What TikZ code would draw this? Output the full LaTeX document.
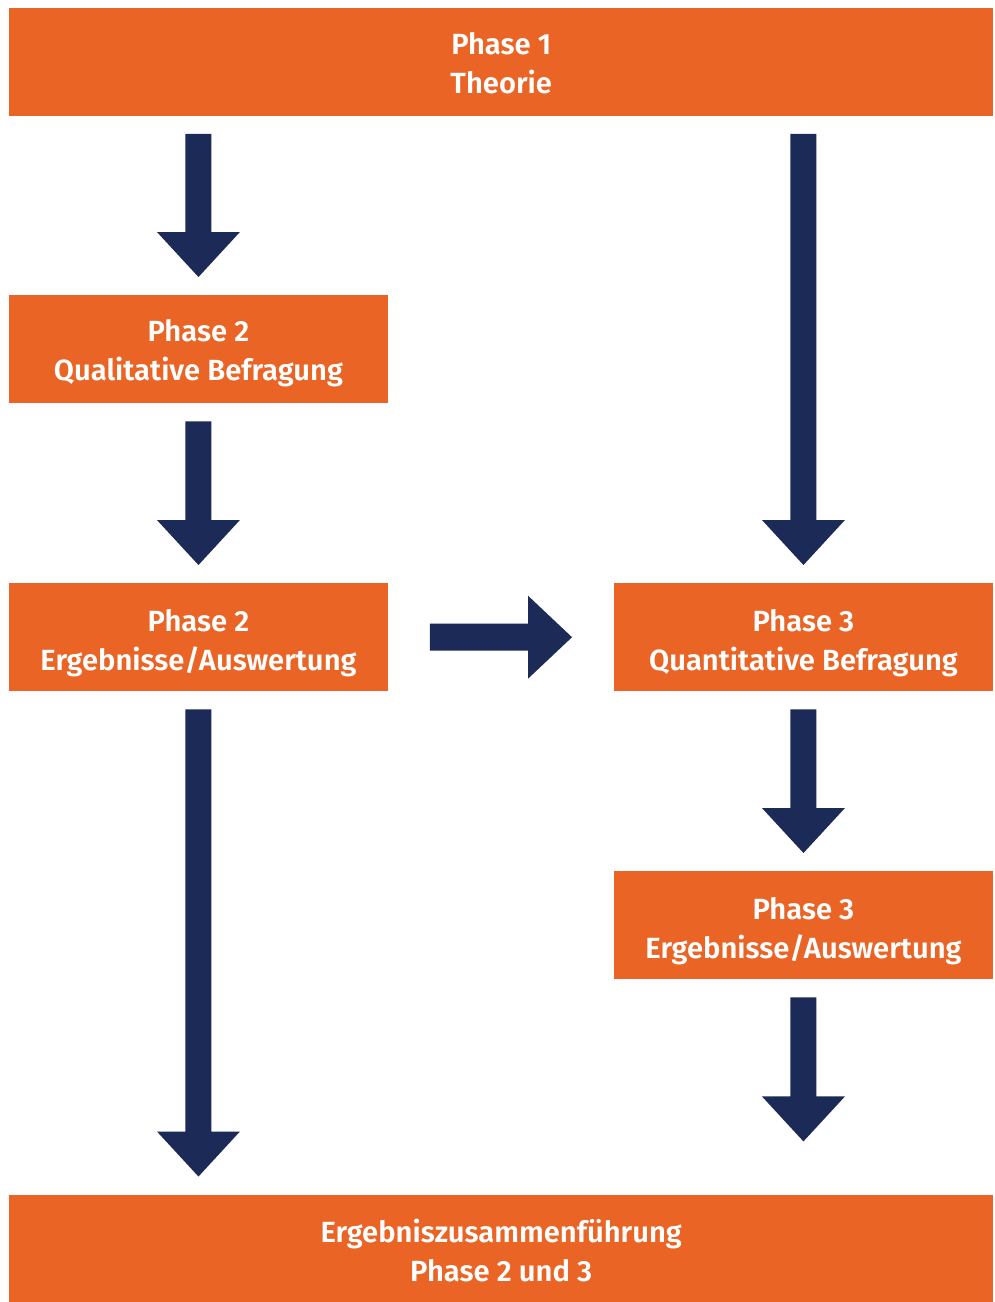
\documentclass[tikz,border=0pt]{standalone}
\usepackage{fontspec}
\setmainfont{Fira Sans}[BoldFont={Fira Sans SemiBold}]
\usetikzlibrary{calc}
\definecolor{orng}{HTML}{E96425}
\definecolor{navy}{HTML}{1C2A57}
\newcommand\arrowdown[2]{%
  \fill[navy] let \p1=(#1), \p2=(#2) in
    (\x1-13pt,\y1) -- (\x1+13pt,\y1) -- (\x1+13pt,\y2+45pt) -- (\x1+41.5pt,\y2+45pt)
    -- (\x1,\y2) -- (\x1-41.5pt,\y2+45pt) -- (\x1-13pt,\y2+45pt) -- cycle;}
\newcommand\arrowright[2]{%
  \fill[navy] let \p1=(#1), \p2=(#2) in
    (\x1,\y1-13.5pt) -- (\x1,\y1+13.5pt) -- (\x2-44pt,\y1+13.5pt) -- (\x2-44pt,\y1+41.5pt)
    -- (\x2,\y1) -- (\x2-44pt,\y1-41.5pt) -- (\x2-44pt,\y1-13.5pt) -- cycle;}
\begin{document}
\begin{tikzpicture}[x=1pt,y=-1pt,
  lbl/.style={text=white,inner sep=0pt,align=center,
    font=\fontsize{29.2}{39}\selectfont\bfseries},
  box/.style={fill=orng,inner sep=0pt,anchor=north west,minimum height=108pt},
  wide/.style={box,minimum width=984pt},
  half/.style={box,minimum width=378.5pt}]
\useasboundingbox[fill=white] (0,0) rectangle (994,1302);
\node[wide,label={[lbl,yshift=-1.5pt]center:{Phase 1\\Theorie}}] (p1) at (9,7.5) {};
\node[half,label={[lbl,yshift=-4pt]center:{Phase 2\\Qualitative Befragung}}] (p2q) at (9,295) {};
\node[half,label={[lbl,yshift=-5.5pt]center:{Phase 2\\Ergebnisse/Auswertung}}] (p2e) at (9,583) {};
\node[half,label={[lbl,yshift=-5.5pt]center:{Phase 3\\Quantitative Befragung}}] (p3q) at (614,583) {};
\node[half,label={[lbl,yshift=-5.5pt]center:{Phase 3\\Ergebnisse/Auswertung}}] (p3e) at (614,871) {};
\node[wide,label={[lbl,yshift=-2pt]center:{Ergebniszusammenführung\\Phase 2 und 3}}] (fin) at (9,1194.5) {};
\coordinate (a1s) at ($(p1.south -| p2q.north)+(0,18)$);
\coordinate (a1e) at ($(p2q.north)+(0,-18)$);
\coordinate (a2s) at ($(p2q.south)+(0,18)$);
\coordinate (a2e) at ($(p2e.north)+(0,-18)$);
\coordinate (a3s) at ($(p1.south -| p3q.north)+(0,18)$);
\coordinate (a3e) at ($(p3q.north)+(0,-18)$);
\coordinate (a4s) at ($(p2e.east)+(42,0)$);
\coordinate (a4e) at ($(p3q.west)+(-42,0)$);
\coordinate (a5s) at ($(p3q.south)+(0,18)$);
\coordinate (a5e) at ($(p3e.north)+(0,-18)$);
\coordinate (a6s) at ($(p2e.south)+(0,18)$);
\coordinate (a6e) at ($(fin.north -| p2e.south)+(0,-18)$);
\coordinate (a7s) at ($(p3e.south)+(0,18)$);
\coordinate (a7e) at ($(p3e.south)+(0,162)$);
\arrowdown{a1s}{a1e}
\arrowdown{a2s}{a2e}
\arrowdown{a3s}{a3e}
\arrowright{a4s}{a4e}
\arrowdown{a5s}{a5e}
\arrowdown{a6s}{a6e}
\arrowdown{a7s}{a7e}
\end{tikzpicture}
\end{document}
